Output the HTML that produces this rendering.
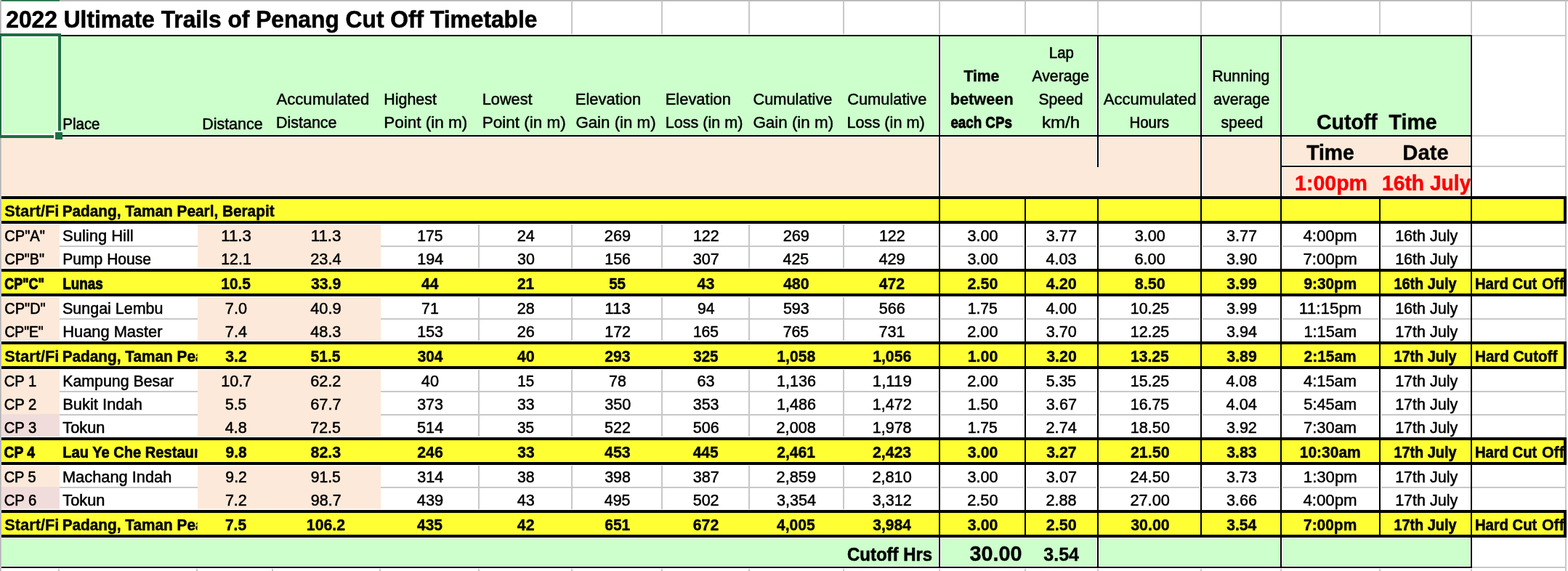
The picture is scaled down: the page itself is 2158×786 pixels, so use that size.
<!DOCTYPE html>
<html lang="en">
<head>
<meta charset="utf-8">
<title>2022 Ultimate Trails of Penang Cut Off Timetable</title>
<style>
html,body{margin:0;padding:0;background:#fff;}
body{width:2158px;height:786px;overflow:hidden;font-family:"Liberation Sans",sans-serif;}
svg{display:block;}
svg rect{shape-rendering:crispEdges;}
svg text{font-family:"Liberation Sans",sans-serif;white-space:pre;}
</style>
</head>
<body>
<svg width="2158" height="786" viewBox="0 0 2158 786">
<defs><clipPath id="c1"><rect x="1900" y="230" width="123.6" height="40"/></clipPath><clipPath id="c2"><rect x="2026" y="372" width="126" height="34"/></clipPath><clipPath id="c3"><rect x="2026" y="372" width="126" height="34"/></clipPath><clipPath id="c4"><rect x="82" y="472" width="189.5" height="34"/></clipPath><clipPath id="c5"><rect x="2026" y="472" width="126" height="34"/></clipPath><clipPath id="c6"><rect x="82" y="604" width="189.5" height="34"/></clipPath><clipPath id="c7"><rect x="2026" y="604" width="126" height="34"/></clipPath><clipPath id="c8"><rect x="2026" y="604" width="126" height="34"/></clipPath><clipPath id="c9"><rect x="82" y="704" width="189.5" height="34"/></clipPath><clipPath id="c10"><rect x="2026" y="704" width="126" height="34"/></clipPath><clipPath id="c11"><rect x="2026" y="704" width="126" height="34"/></clipPath></defs>
<rect x="0" y="0" width="2158" height="786" fill="#ffffff"/>
<g id="gridlines">
<rect x="786" y="2" width="2" height="44.6" fill="#c8c8c8"/>
<rect x="910" y="2" width="2" height="44.6" fill="#c8c8c8"/>
<rect x="1030" y="2" width="2" height="44.6" fill="#c8c8c8"/>
<rect x="1160" y="2" width="2" height="44.6" fill="#c8c8c8"/>
<rect x="1292" y="2" width="2" height="44.6" fill="#c8c8c8"/>
<rect x="1410" y="2" width="2" height="44.6" fill="#c8c8c8"/>
<rect x="1510" y="2" width="2" height="44.6" fill="#c8c8c8"/>
<rect x="1652" y="2" width="2" height="44.6" fill="#c8c8c8"/>
<rect x="1762" y="2" width="2" height="44.6" fill="#c8c8c8"/>
<rect x="1898" y="2" width="2" height="44.6" fill="#c8c8c8"/>
<rect x="2024" y="2" width="2" height="44.6" fill="#c8c8c8"/>
<rect x="2154" y="2" width="2" height="44.6" fill="#c8c8c8"/>
<rect x="2154" y="2" width="2" height="784" fill="#c8c8c8"/>
<rect x="2026" y="48" width="130" height="2" fill="#c8c8c8"/>
<rect x="2026" y="186" width="130" height="2" fill="#c8c8c8"/>
<rect x="2026" y="228" width="130" height="2" fill="#c8c8c8"/>
<rect x="2026" y="338" width="130" height="2" fill="#c8c8c8"/>
<rect x="2026" y="438" width="130" height="2" fill="#c8c8c8"/>
<rect x="2026" y="538" width="130" height="2" fill="#c8c8c8"/>
<rect x="2026" y="570" width="130" height="2" fill="#c8c8c8"/>
<rect x="2026" y="670" width="130" height="2" fill="#c8c8c8"/>
<rect x="2026" y="780" width="130" height="2" fill="#c8c8c8"/>
<rect x="82" y="338" width="190" height="2" fill="#c8c8c8"/>
<rect x="524" y="338" width="1502" height="2" fill="#c8c8c8"/>
<rect x="82" y="438" width="190" height="2" fill="#c8c8c8"/>
<rect x="524" y="438" width="1502" height="2" fill="#c8c8c8"/>
<rect x="82" y="538" width="190" height="2" fill="#c8c8c8"/>
<rect x="524" y="538" width="1502" height="2" fill="#c8c8c8"/>
<rect x="82" y="570" width="190" height="2" fill="#c8c8c8"/>
<rect x="524" y="570" width="1502" height="2" fill="#c8c8c8"/>
<rect x="82" y="670" width="190" height="2" fill="#c8c8c8"/>
<rect x="524" y="670" width="1502" height="2" fill="#c8c8c8"/>
<rect x="658" y="309.2" width="2" height="59.8" fill="#c8c8c8"/>
<rect x="658" y="409.2" width="2" height="59.8" fill="#c8c8c8"/>
<rect x="658" y="509.2" width="2" height="91.8" fill="#c8c8c8"/>
<rect x="658" y="641.2" width="2" height="59.8" fill="#c8c8c8"/>
<rect x="786" y="309.2" width="2" height="59.8" fill="#c8c8c8"/>
<rect x="786" y="409.2" width="2" height="59.8" fill="#c8c8c8"/>
<rect x="786" y="509.2" width="2" height="91.8" fill="#c8c8c8"/>
<rect x="786" y="641.2" width="2" height="59.8" fill="#c8c8c8"/>
<rect x="910" y="309.2" width="2" height="59.8" fill="#c8c8c8"/>
<rect x="910" y="409.2" width="2" height="59.8" fill="#c8c8c8"/>
<rect x="910" y="509.2" width="2" height="91.8" fill="#c8c8c8"/>
<rect x="910" y="641.2" width="2" height="59.8" fill="#c8c8c8"/>
<rect x="1030" y="309.2" width="2" height="59.8" fill="#c8c8c8"/>
<rect x="1030" y="409.2" width="2" height="59.8" fill="#c8c8c8"/>
<rect x="1030" y="509.2" width="2" height="91.8" fill="#c8c8c8"/>
<rect x="1030" y="641.2" width="2" height="59.8" fill="#c8c8c8"/>
<rect x="1160" y="309.2" width="2" height="59.8" fill="#c8c8c8"/>
<rect x="1160" y="409.2" width="2" height="59.8" fill="#c8c8c8"/>
<rect x="1160" y="509.2" width="2" height="91.8" fill="#c8c8c8"/>
<rect x="1160" y="641.2" width="2" height="59.8" fill="#c8c8c8"/>
<rect x="80" y="783" width="2" height="3" fill="#c8c8c8"/>
<rect x="270" y="783" width="2" height="3" fill="#c8c8c8"/>
<rect x="374" y="783" width="2" height="3" fill="#c8c8c8"/>
<rect x="522" y="783" width="2" height="3" fill="#c8c8c8"/>
<rect x="658" y="783" width="2" height="3" fill="#c8c8c8"/>
<rect x="786" y="783" width="2" height="3" fill="#c8c8c8"/>
<rect x="910" y="783" width="2" height="3" fill="#c8c8c8"/>
<rect x="1030" y="783" width="2" height="3" fill="#c8c8c8"/>
<rect x="1160" y="783" width="2" height="3" fill="#c8c8c8"/>
<rect x="1292" y="783" width="2" height="3" fill="#c8c8c8"/>
<rect x="1410" y="783" width="2" height="3" fill="#c8c8c8"/>
<rect x="1510" y="783" width="2" height="3" fill="#c8c8c8"/>
<rect x="1652" y="783" width="2" height="3" fill="#c8c8c8"/>
<rect x="1762" y="783" width="2" height="3" fill="#c8c8c8"/>
<rect x="1898" y="783" width="2" height="3" fill="#c8c8c8"/>
<rect x="2024" y="783" width="2" height="3" fill="#c8c8c8"/>
<rect x="2154" y="783" width="2" height="3" fill="#c8c8c8"/>
</g>
<g id="fills">
<rect x="2" y="50" width="2022" height="136" fill="#ccffcc"/>
<rect x="2" y="189" width="2022" height="80" fill="#fde9d9"/>
<rect x="2" y="274" width="2150" height="30" fill="#ffff33"/>
<rect x="2" y="374" width="2150" height="30" fill="#ffff33"/>
<rect x="2" y="474" width="2150" height="30" fill="#ffff33"/>
<rect x="2" y="606" width="2150" height="30" fill="#ffff33"/>
<rect x="2" y="706" width="2150" height="30" fill="#ffff33"/>
<rect x="2" y="741" width="2022" height="38" fill="#ccffcc"/>
<rect x="272" y="309.2" width="252" height="59.4" fill="#fde9d9" style="shape-rendering:geometricPrecision"/>
<rect x="272" y="409.2" width="252" height="59.4" fill="#fde9d9" style="shape-rendering:geometricPrecision"/>
<rect x="272" y="509.2" width="252" height="91.4" fill="#fde9d9" style="shape-rendering:geometricPrecision"/>
<rect x="272" y="641.2" width="252" height="59.4" fill="#fde9d9" style="shape-rendering:geometricPrecision"/>
<rect x="2" y="309.2" width="80" height="59.4" fill="#fde9d9" style="shape-rendering:geometricPrecision"/>
<rect x="2" y="409.2" width="80" height="59.4" fill="#fde9d9" style="shape-rendering:geometricPrecision"/>
<rect x="2" y="509.2" width="80" height="60.8" fill="#fde9d9" style="shape-rendering:geometricPrecision"/>
<rect x="2" y="570" width="80" height="30.6" fill="#f1dcdc" style="shape-rendering:geometricPrecision"/>
<rect x="2" y="641.2" width="80" height="28.8" fill="#fde9d9" style="shape-rendering:geometricPrecision"/>
<rect x="2" y="670" width="80" height="30.6" fill="#f1dcdc" style="shape-rendering:geometricPrecision"/>
</g>
<g id="borders">
<rect x="2" y="188" width="2022" height="1" fill="#ffffff"/>
<rect x="1764" y="227" width="260" height="4" fill="#ffffff"/>
<rect x="2" y="269" width="2022" height="1" fill="#ffffff"/>
<rect x="2" y="779" width="2022" height="1" fill="#ffffff"/>
<rect x="2" y="740" width="2022" height="1" fill="#ffffff"/>
<rect x="1291" y="50" width="4" height="220" fill="#ffffff"/>
<rect x="1292" y="50" width="2" height="220" fill="#000000"/>
<rect x="1509" y="50" width="4" height="180" fill="#ffffff"/>
<rect x="1510" y="50" width="2" height="180" fill="#000000"/>
<rect x="1651" y="50" width="4" height="220" fill="#ffffff"/>
<rect x="1652" y="50" width="2" height="220" fill="#000000"/>
<rect x="1761" y="50" width="4" height="220" fill="#ffffff"/>
<rect x="1762" y="50" width="2" height="220" fill="#000000"/>
<rect x="2023" y="50" width="1" height="220" fill="#ffffff"/>
<rect x="2023" y="741" width="1" height="38" fill="#ffffff"/>
<rect x="2024" y="48" width="2" height="734" fill="#000000"/>
<rect x="1291" y="308" width="4" height="62" fill="#ffffff"/>
<rect x="1291" y="408" width="4" height="62" fill="#ffffff"/>
<rect x="1291" y="508" width="4" height="94" fill="#ffffff"/>
<rect x="1291" y="640" width="4" height="62" fill="#ffffff"/>
<rect x="1292" y="272" width="2" height="468" fill="#000000"/>
<rect x="1409" y="308" width="4" height="62" fill="#ffffff"/>
<rect x="1409" y="408" width="4" height="62" fill="#ffffff"/>
<rect x="1409" y="508" width="4" height="94" fill="#ffffff"/>
<rect x="1409" y="640" width="4" height="62" fill="#ffffff"/>
<rect x="1410" y="272" width="2" height="468" fill="#000000"/>
<rect x="1509" y="308" width="4" height="62" fill="#ffffff"/>
<rect x="1509" y="408" width="4" height="62" fill="#ffffff"/>
<rect x="1509" y="508" width="4" height="94" fill="#ffffff"/>
<rect x="1509" y="640" width="4" height="62" fill="#ffffff"/>
<rect x="1510" y="272" width="2" height="468" fill="#000000"/>
<rect x="1651" y="308" width="4" height="62" fill="#ffffff"/>
<rect x="1651" y="408" width="4" height="62" fill="#ffffff"/>
<rect x="1651" y="508" width="4" height="94" fill="#ffffff"/>
<rect x="1651" y="640" width="4" height="62" fill="#ffffff"/>
<rect x="1652" y="272" width="2" height="468" fill="#000000"/>
<rect x="1761" y="308" width="4" height="62" fill="#ffffff"/>
<rect x="1761" y="408" width="4" height="62" fill="#ffffff"/>
<rect x="1761" y="508" width="4" height="94" fill="#ffffff"/>
<rect x="1761" y="640" width="4" height="62" fill="#ffffff"/>
<rect x="1762" y="272" width="2" height="468" fill="#000000"/>
<rect x="1897" y="308" width="4" height="62" fill="#ffffff"/>
<rect x="1897" y="408" width="4" height="62" fill="#ffffff"/>
<rect x="1897" y="508" width="4" height="94" fill="#ffffff"/>
<rect x="1897" y="640" width="4" height="62" fill="#ffffff"/>
<rect x="1898" y="272" width="2" height="468" fill="#000000"/>
<rect x="1291" y="740" width="4" height="40" fill="#ffffff"/>
<rect x="1292" y="740" width="2" height="40" fill="#000000"/>
<rect x="1509" y="740" width="4" height="40" fill="#ffffff"/>
<rect x="1510" y="740" width="2" height="40" fill="#000000"/>
<rect x="1761" y="740" width="4" height="40" fill="#ffffff"/>
<rect x="1762" y="740" width="2" height="40" fill="#000000"/>
<rect x="84" y="48" width="1942" height="2" fill="#000000"/>
<rect x="2" y="186" width="2024" height="2" fill="#000000"/>
<rect x="1764" y="228" width="260" height="2" fill="#000000"/>
<rect x="2" y="270" width="2154" height="4" fill="#000000"/>
<rect x="2" y="304" width="2154" height="4" fill="#000000"/>
<rect x="2152" y="270" width="4" height="38" fill="#000000"/>
<rect x="2" y="370" width="2154" height="4" fill="#000000"/>
<rect x="2" y="404" width="2154" height="4" fill="#000000"/>
<rect x="2152" y="370" width="4" height="38" fill="#000000"/>
<rect x="2" y="470" width="2154" height="4" fill="#000000"/>
<rect x="2" y="504" width="2154" height="4" fill="#000000"/>
<rect x="2152" y="470" width="4" height="38" fill="#000000"/>
<rect x="2" y="602" width="2154" height="4" fill="#000000"/>
<rect x="2" y="636" width="2154" height="4" fill="#000000"/>
<rect x="2152" y="602" width="4" height="38" fill="#000000"/>
<rect x="2" y="702" width="2154" height="4" fill="#000000"/>
<rect x="2" y="736" width="2154" height="4" fill="#000000"/>
<rect x="2152" y="702" width="4" height="38" fill="#000000"/>
<rect x="2" y="780" width="2024" height="2" fill="#000000"/>
</g>
<rect x="0" y="0" width="2158" height="1" fill="#b3b3b3"/>
<rect x="0" y="1" width="2158" height="1" fill="#c6c6c6"/>
<rect x="0" y="0" width="1" height="786" fill="#b3b3b3"/>
<rect x="1" y="2" width="1" height="784" fill="#c6c6c6"/>
<rect x="2" y="0" width="80" height="1" fill="#1e6e42"/>
<rect x="2" y="1" width="80" height="1" fill="#5e9478"/>
<rect x="1" y="274" width="1" height="30" fill="#b4aee6"/>
<rect x="1" y="374" width="1" height="30" fill="#b4aee6"/>
<rect x="1" y="474" width="1" height="30" fill="#b4aee6"/>
<rect x="1" y="606" width="1" height="30" fill="#b4aee6"/>
<rect x="1" y="706" width="1" height="30" fill="#b4aee6"/>
<g id="text" font-family="'Liberation Sans', sans-serif" fill="#000" stroke="#000" stroke-linejoin="round">
<text x="8.28" y="37.75" font-size="33.77" textLength="731.18" lengthAdjust="spacingAndGlyphs" stroke-width="0.58" font-weight="bold">2022 Ultimate Trails of Penang Cut Off Timetable</text>
<text x="86.35" y="177.60" font-size="22.44" textLength="51.14" lengthAdjust="spacingAndGlyphs" stroke-width="0.63">Place</text>
<text x="278.16" y="177.60" font-size="22.44" textLength="83.51" lengthAdjust="spacingAndGlyphs" stroke-width="0.54">Distance</text>
<text x="380.48" y="143.70" font-size="22.44" textLength="127.92" lengthAdjust="spacingAndGlyphs" stroke-width="0.48">Accumulated</text>
<text x="380.01" y="175.70" font-size="22.44" textLength="83.51" lengthAdjust="spacingAndGlyphs" stroke-width="0.54">Distance</text>
<text x="528.27" y="143.70" font-size="22.44" textLength="72.61" lengthAdjust="spacingAndGlyphs" stroke-width="0.54">Highest</text>
<text x="528.18" y="175.70" font-size="22.44" textLength="115.20" lengthAdjust="spacingAndGlyphs" stroke-width="0.45">Point (in m)</text>
<text x="663.74" y="143.70" font-size="22.44" textLength="68.89" lengthAdjust="spacingAndGlyphs" stroke-width="0.51">Lowest</text>
<text x="663.68" y="175.70" font-size="22.44" textLength="115.20" lengthAdjust="spacingAndGlyphs" stroke-width="0.45">Point (in m)</text>
<text x="791.72" y="143.70" font-size="22.44" textLength="90.43" lengthAdjust="spacingAndGlyphs" stroke-width="0.49">Elevation</text>
<text x="792.40" y="175.70" font-size="22.44" textLength="110.20" lengthAdjust="spacingAndGlyphs" stroke-width="0.46">Gain (in m)</text>
<text x="915.73" y="143.70" font-size="22.44" textLength="90.17" lengthAdjust="spacingAndGlyphs" stroke-width="0.50">Elevation</text>
<text x="915.75" y="175.70" font-size="22.44" textLength="106.81" lengthAdjust="spacingAndGlyphs" stroke-width="0.53">Loss (in m)</text>
<text x="1036.42" y="143.70" font-size="22.44" textLength="109.03" lengthAdjust="spacingAndGlyphs" stroke-width="0.51">Cumulative</text>
<text x="1036.40" y="175.70" font-size="22.44" textLength="110.71" lengthAdjust="spacingAndGlyphs" stroke-width="0.45">Gain (in m)</text>
<text x="1166.17" y="143.70" font-size="22.44" textLength="109.28" lengthAdjust="spacingAndGlyphs" stroke-width="0.50">Cumulative</text>
<text x="1165.49" y="175.70" font-size="22.44" textLength="107.33" lengthAdjust="spacingAndGlyphs" stroke-width="0.52">Loss (in m)</text>
<text x="1326.39" y="111.70" font-size="22.51" textLength="48.95" lengthAdjust="spacingAndGlyphs" stroke-width="0.46" font-weight="bold">Time</text>
<text x="1307.69" y="143.70" font-size="22.51" textLength="87.03" lengthAdjust="spacingAndGlyphs" stroke-width="0.30" font-weight="bold">between</text>
<text x="1308.39" y="175.70" font-size="22.51" textLength="84.50" lengthAdjust="spacingAndGlyphs" stroke-width="0.90" font-weight="bold">each CPs</text>
<text x="1443.85" y="79.70" font-size="22.44" textLength="33.98" lengthAdjust="spacingAndGlyphs" stroke-width="0.64">Lap</text>
<text x="1420.48" y="111.70" font-size="22.44" textLength="78.68" lengthAdjust="spacingAndGlyphs" stroke-width="0.57">Average</text>
<text x="1429.57" y="143.70" font-size="22.44" textLength="60.76" lengthAdjust="spacingAndGlyphs" stroke-width="0.58">Speed</text>
<text x="1433.90" y="175.70" font-size="22.44" textLength="52.13" lengthAdjust="spacingAndGlyphs" stroke-width="0.45">km/h</text>
<text x="1518.68" y="143.70" font-size="22.44" textLength="127.82" lengthAdjust="spacingAndGlyphs" stroke-width="0.48">Accumulated</text>
<text x="1554.45" y="175.70" font-size="22.44" textLength="54.57" lengthAdjust="spacingAndGlyphs" stroke-width="0.63">Hours</text>
<text x="1668.18" y="111.70" font-size="22.44" textLength="79.27" lengthAdjust="spacingAndGlyphs" stroke-width="0.55">Running</text>
<text x="1670.12" y="143.70" font-size="22.44" textLength="77.31" lengthAdjust="spacingAndGlyphs" stroke-width="0.54">average</text>
<text x="1680.53" y="175.70" font-size="22.44" textLength="57.81" lengthAdjust="spacingAndGlyphs" stroke-width="0.56">speed</text>
<text x="1811.91" y="178.20" font-size="30.02" textLength="165.69" lengthAdjust="spacingAndGlyphs" stroke-width="0.47" font-weight="bold" xml:space="preserve">Cutoff  Time</text>
<text x="1798.16" y="219.90" font-size="30.02" textLength="65.52" lengthAdjust="spacingAndGlyphs" stroke-width="0.54" font-weight="bold">Time</text>
<text x="1930.32" y="219.90" font-size="30.02" textLength="63.41" lengthAdjust="spacingAndGlyphs" stroke-width="0.30" font-weight="bold">Date</text>
<text x="1782.08" y="262.00" font-size="30.02" textLength="99.92" lengthAdjust="spacingAndGlyphs" stroke-width="0.45" font-weight="bold" fill="#fb0007" stroke="#fb0007">1:00pm</text>
<g clip-path="url(#c1)"><text x="1902.10" y="262.00" font-size="30.02" textLength="122.28" lengthAdjust="spacingAndGlyphs" stroke-width="0.51" font-weight="bold" fill="#fb0007" stroke="#fb0007">16th July</text></g>
<text x="6.25" y="297.60" font-size="22.51" textLength="75.12" lengthAdjust="spacingAndGlyphs" stroke-width="0.29" font-weight="bold">Start/Fi</text>
<text x="85.69" y="297.60" font-size="22.51" textLength="291.89" lengthAdjust="spacingAndGlyphs" stroke-width="0.52" font-weight="bold">Padang, Taman Pearl, Berapit</text>
<text x="6.36" y="331.60" font-size="22.44" textLength="55.50" lengthAdjust="spacingAndGlyphs" stroke-width="0.66">CP"A"</text>
<text x="86.03" y="331.60" font-size="22.44" textLength="97.72" lengthAdjust="spacingAndGlyphs" stroke-width="0.49">Suling Hill</text>
<text x="304.19" y="331.60" font-size="22.44" textLength="41.69" lengthAdjust="spacingAndGlyphs" stroke-width="0.54">11.3</text>
<text x="427.69" y="331.60" font-size="22.44" textLength="41.69" lengthAdjust="spacingAndGlyphs" stroke-width="0.54">11.3</text>
<text x="574.35" y="331.60" font-size="22.44" textLength="35.03" lengthAdjust="spacingAndGlyphs" stroke-width="0.58">175</text>
<text x="711.75" y="331.60" font-size="22.44" textLength="24.13" lengthAdjust="spacingAndGlyphs" stroke-width="0.52">24</text>
<text x="831.86" y="331.60" font-size="22.44" textLength="36.27" lengthAdjust="spacingAndGlyphs" stroke-width="0.51">269</text>
<text x="953.93" y="331.60" font-size="22.44" textLength="35.65" lengthAdjust="spacingAndGlyphs" stroke-width="0.55">122</text>
<text x="1077.66" y="331.60" font-size="22.44" textLength="36.27" lengthAdjust="spacingAndGlyphs" stroke-width="0.51">269</text>
<text x="1209.93" y="331.60" font-size="22.44" textLength="35.65" lengthAdjust="spacingAndGlyphs" stroke-width="0.55">122</text>
<text x="1331.49" y="331.60" font-size="22.44" textLength="42.03" lengthAdjust="spacingAndGlyphs" stroke-width="0.53">3.00</text>
<text x="1439.84" y="331.60" font-size="22.44" textLength="42.13" lengthAdjust="spacingAndGlyphs" stroke-width="0.52">3.77</text>
<text x="1561.79" y="331.60" font-size="22.44" textLength="42.03" lengthAdjust="spacingAndGlyphs" stroke-width="0.53">3.00</text>
<text x="1687.94" y="331.60" font-size="22.44" textLength="42.13" lengthAdjust="spacingAndGlyphs" stroke-width="0.52">3.77</text>
<text x="1793.38" y="331.60" font-size="22.44" textLength="74.28" lengthAdjust="spacingAndGlyphs" stroke-width="0.47">4:00pm</text>
<text x="1920.14" y="331.60" font-size="22.44" textLength="86.03" lengthAdjust="spacingAndGlyphs" stroke-width="0.54">16th July</text>
<text x="6.38" y="363.60" font-size="22.44" textLength="54.67" lengthAdjust="spacingAndGlyphs" stroke-width="0.69">CP"B"</text>
<text x="86.30" y="363.60" font-size="22.44" textLength="121.71" lengthAdjust="spacingAndGlyphs" stroke-width="0.57">Pump House</text>
<text x="304.19" y="363.60" font-size="22.44" textLength="41.62" lengthAdjust="spacingAndGlyphs" stroke-width="0.54">12.1</text>
<text x="427.23" y="363.60" font-size="22.44" textLength="42.36" lengthAdjust="spacingAndGlyphs" stroke-width="0.51">23.4</text>
<text x="574.32" y="363.60" font-size="22.44" textLength="35.83" lengthAdjust="spacingAndGlyphs" stroke-width="0.54">194</text>
<text x="712.06" y="363.60" font-size="22.44" textLength="23.79" lengthAdjust="spacingAndGlyphs" stroke-width="0.54">30</text>
<text x="832.32" y="363.60" font-size="22.44" textLength="35.71" lengthAdjust="spacingAndGlyphs" stroke-width="0.54">156</text>
<text x="953.77" y="363.60" font-size="22.44" textLength="36.07" lengthAdjust="spacingAndGlyphs" stroke-width="0.52">307</text>
<text x="1077.60" y="363.60" font-size="22.44" textLength="35.60" lengthAdjust="spacingAndGlyphs" stroke-width="0.55">425</text>
<text x="1209.39" y="363.60" font-size="22.44" textLength="36.34" lengthAdjust="spacingAndGlyphs" stroke-width="0.51">429</text>
<text x="1331.49" y="363.60" font-size="22.44" textLength="42.03" lengthAdjust="spacingAndGlyphs" stroke-width="0.53">3.00</text>
<text x="1439.46" y="363.60" font-size="22.44" textLength="42.23" lengthAdjust="spacingAndGlyphs" stroke-width="0.52">4.03</text>
<text x="1561.47" y="363.60" font-size="22.44" textLength="42.36" lengthAdjust="spacingAndGlyphs" stroke-width="0.51">6.00</text>
<text x="1687.94" y="363.60" font-size="22.44" textLength="42.03" lengthAdjust="spacingAndGlyphs" stroke-width="0.53">3.90</text>
<text x="1793.49" y="363.60" font-size="22.44" textLength="74.17" lengthAdjust="spacingAndGlyphs" stroke-width="0.47">7:00pm</text>
<text x="1920.14" y="363.60" font-size="22.44" textLength="86.03" lengthAdjust="spacingAndGlyphs" stroke-width="0.54">16th July</text>
<text x="6.20" y="397.60" font-size="22.51" textLength="54.81" lengthAdjust="spacingAndGlyphs" stroke-width="1.07" font-weight="bold">CP"C"</text>
<text x="86.32" y="397.60" font-size="22.51" textLength="55.38" lengthAdjust="spacingAndGlyphs" stroke-width="0.89" font-weight="bold">Lunas</text>
<text x="304.27" y="397.60" font-size="22.51" textLength="40.71" lengthAdjust="spacingAndGlyphs" stroke-width="0.47" font-weight="bold">10.5</text>
<text x="427.90" y="397.60" font-size="22.51" textLength="41.46" lengthAdjust="spacingAndGlyphs" stroke-width="0.39" font-weight="bold">33.9</text>
<text x="580.00" y="397.60" font-size="22.51" textLength="23.40" lengthAdjust="spacingAndGlyphs" stroke-width="0.44" font-weight="bold">44</text>
<text x="712.02" y="397.60" font-size="22.51" textLength="23.13" lengthAdjust="spacingAndGlyphs" stroke-width="0.49" font-weight="bold">21</text>
<text x="838.19" y="397.60" font-size="22.51" textLength="22.84" lengthAdjust="spacingAndGlyphs" stroke-width="0.54" font-weight="bold">55</text>
<text x="959.60" y="397.60" font-size="22.51" textLength="23.77" lengthAdjust="spacingAndGlyphs" stroke-width="0.38" font-weight="bold">43</text>
<text x="1077.89" y="397.60" font-size="22.51" textLength="35.88" lengthAdjust="spacingAndGlyphs" stroke-width="0.35" font-weight="bold">480</text>
<text x="1209.69" y="397.60" font-size="22.51" textLength="35.52" lengthAdjust="spacingAndGlyphs" stroke-width="0.40" font-weight="bold">472</text>
<text x="1331.51" y="397.60" font-size="22.51" textLength="41.92" lengthAdjust="spacingAndGlyphs" stroke-width="0.35" font-weight="bold">2.50</text>
<text x="1439.67" y="397.60" font-size="22.51" textLength="42.12" lengthAdjust="spacingAndGlyphs" stroke-width="0.32" font-weight="bold">4.20</text>
<text x="1561.79" y="397.60" font-size="22.51" textLength="41.95" lengthAdjust="spacingAndGlyphs" stroke-width="0.34" font-weight="bold">8.50</text>
<text x="1688.30" y="397.60" font-size="22.51" textLength="41.46" lengthAdjust="spacingAndGlyphs" stroke-width="0.39" font-weight="bold">3.99</text>
<text x="1794.52" y="397.60" font-size="22.51" textLength="72.73" lengthAdjust="spacingAndGlyphs" stroke-width="0.50" font-weight="bold">9:30pm</text>
<text x="1918.41" y="397.60" font-size="22.51" textLength="86.08" lengthAdjust="spacingAndGlyphs" stroke-width="0.68" font-weight="bold">16th July</text>
<g clip-path="url(#c2)"><text x="2030.03" y="397.60" font-size="22.51" textLength="85.15" lengthAdjust="spacingAndGlyphs" stroke-width="0.62" font-weight="bold">Hard Cut</text></g>
<g clip-path="url(#c3)"><text x="2121.89" y="397.60" font-size="22.51" textLength="31.09" lengthAdjust="spacingAndGlyphs" stroke-width="0.35" font-weight="bold">Off</text></g>
<text x="6.37" y="431.60" font-size="22.44" textLength="56.34" lengthAdjust="spacingAndGlyphs" stroke-width="0.67">CP"D"</text>
<text x="86.05" y="431.60" font-size="22.44" textLength="138.35" lengthAdjust="spacingAndGlyphs" stroke-width="0.54">Sungai Lembu</text>
<text x="309.87" y="431.60" font-size="22.44" textLength="30.12" lengthAdjust="spacingAndGlyphs" stroke-width="0.52">7.0</text>
<text x="427.16" y="431.60" font-size="22.44" textLength="42.40" lengthAdjust="spacingAndGlyphs" stroke-width="0.51">40.9</text>
<text x="580.01" y="431.60" font-size="22.44" textLength="23.79" lengthAdjust="spacingAndGlyphs" stroke-width="0.54">71</text>
<text x="711.76" y="431.60" font-size="22.44" textLength="23.85" lengthAdjust="spacingAndGlyphs" stroke-width="0.54">28</text>
<text x="832.33" y="431.60" font-size="22.44" textLength="35.62" lengthAdjust="spacingAndGlyphs" stroke-width="0.55">113</text>
<text x="960.10" y="431.60" font-size="22.44" textLength="23.56" lengthAdjust="spacingAndGlyphs" stroke-width="0.56">94</text>
<text x="1077.91" y="431.60" font-size="22.44" textLength="35.84" lengthAdjust="spacingAndGlyphs" stroke-width="0.54">593</text>
<text x="1209.71" y="431.60" font-size="22.44" textLength="35.93" lengthAdjust="spacingAndGlyphs" stroke-width="0.53">566</text>
<text x="1331.67" y="431.60" font-size="22.44" textLength="41.10" lengthAdjust="spacingAndGlyphs" stroke-width="0.57">1.75</text>
<text x="1439.46" y="431.60" font-size="22.44" textLength="42.42" lengthAdjust="spacingAndGlyphs" stroke-width="0.51">4.00</text>
<text x="1555.87" y="431.60" font-size="22.44" textLength="53.29" lengthAdjust="spacingAndGlyphs" stroke-width="0.55">10.25</text>
<text x="1687.94" y="431.60" font-size="22.44" textLength="42.01" lengthAdjust="spacingAndGlyphs" stroke-width="0.53">3.99</text>
<text x="1787.79" y="431.60" font-size="22.44" textLength="85.94" lengthAdjust="spacingAndGlyphs" stroke-width="0.48">11:15pm</text>
<text x="1920.14" y="431.60" font-size="22.44" textLength="86.03" lengthAdjust="spacingAndGlyphs" stroke-width="0.54">16th July</text>
<text x="6.40" y="463.60" font-size="22.44" textLength="53.33" lengthAdjust="spacingAndGlyphs" stroke-width="0.73">CP"E"</text>
<text x="86.23" y="463.60" font-size="22.44" textLength="137.20" lengthAdjust="spacingAndGlyphs" stroke-width="0.50">Huang Master</text>
<text x="309.87" y="463.60" font-size="22.44" textLength="30.14" lengthAdjust="spacingAndGlyphs" stroke-width="0.52">7.4</text>
<text x="427.16" y="463.60" font-size="22.44" textLength="42.23" lengthAdjust="spacingAndGlyphs" stroke-width="0.52">48.3</text>
<text x="574.33" y="463.60" font-size="22.44" textLength="35.62" lengthAdjust="spacingAndGlyphs" stroke-width="0.55">153</text>
<text x="711.75" y="463.60" font-size="22.44" textLength="24.00" lengthAdjust="spacingAndGlyphs" stroke-width="0.53">26</text>
<text x="832.33" y="463.60" font-size="22.44" textLength="35.65" lengthAdjust="spacingAndGlyphs" stroke-width="0.55">172</text>
<text x="953.95" y="463.60" font-size="22.44" textLength="35.03" lengthAdjust="spacingAndGlyphs" stroke-width="0.58">165</text>
<text x="1077.74" y="463.60" font-size="22.44" textLength="35.46" lengthAdjust="spacingAndGlyphs" stroke-width="0.56">765</text>
<text x="1209.52" y="463.60" font-size="22.44" textLength="35.97" lengthAdjust="spacingAndGlyphs" stroke-width="0.53">731</text>
<text x="1331.18" y="463.60" font-size="22.44" textLength="42.35" lengthAdjust="spacingAndGlyphs" stroke-width="0.51">2.00</text>
<text x="1439.84" y="463.60" font-size="22.44" textLength="42.03" lengthAdjust="spacingAndGlyphs" stroke-width="0.53">3.70</text>
<text x="1555.87" y="463.60" font-size="22.44" textLength="53.29" lengthAdjust="spacingAndGlyphs" stroke-width="0.55">12.25</text>
<text x="1687.94" y="463.60" font-size="22.44" textLength="42.04" lengthAdjust="spacingAndGlyphs" stroke-width="0.53">3.94</text>
<text x="1794.45" y="463.60" font-size="22.44" textLength="72.62" lengthAdjust="spacingAndGlyphs" stroke-width="0.51">1:15am</text>
<text x="1920.14" y="463.60" font-size="22.44" textLength="86.03" lengthAdjust="spacingAndGlyphs" stroke-width="0.54">17th July</text>
<text x="6.25" y="497.60" font-size="22.51" textLength="75.12" lengthAdjust="spacingAndGlyphs" stroke-width="0.29" font-weight="bold">Start/Fi</text>
<g clip-path="url(#c4)"><text x="85.69" y="497.60" font-size="22.51" textLength="291.89" lengthAdjust="spacingAndGlyphs" stroke-width="0.52" font-weight="bold">Padang, Taman Pearl, Berapit</text></g>
<text x="310.32" y="497.60" font-size="22.51" textLength="29.38" lengthAdjust="spacingAndGlyphs" stroke-width="0.42" font-weight="bold">3.2</text>
<text x="427.55" y="497.60" font-size="22.51" textLength="40.93" lengthAdjust="spacingAndGlyphs" stroke-width="0.45" font-weight="bold">51.5</text>
<text x="574.63" y="497.60" font-size="22.51" textLength="34.69" lengthAdjust="spacingAndGlyphs" stroke-width="0.49" font-weight="bold">304</text>
<text x="711.79" y="497.60" font-size="22.51" textLength="24.06" lengthAdjust="spacingAndGlyphs" stroke-width="0.33" font-weight="bold">40</text>
<text x="832.29" y="497.60" font-size="22.51" textLength="35.39" lengthAdjust="spacingAndGlyphs" stroke-width="0.41" font-weight="bold">293</text>
<text x="954.23" y="497.60" font-size="22.51" textLength="34.31" lengthAdjust="spacingAndGlyphs" stroke-width="0.54" font-weight="bold">325</text>
<text x="1069.35" y="497.60" font-size="22.51" textLength="52.88" lengthAdjust="spacingAndGlyphs" stroke-width="0.43" font-weight="bold">1,058</text>
<text x="1201.14" y="497.60" font-size="22.51" textLength="53.19" lengthAdjust="spacingAndGlyphs" stroke-width="0.40" font-weight="bold">1,056</text>
<text x="1331.68" y="497.60" font-size="22.51" textLength="41.74" lengthAdjust="spacingAndGlyphs" stroke-width="0.36" font-weight="bold">1.00</text>
<text x="1440.20" y="497.60" font-size="22.51" textLength="41.57" lengthAdjust="spacingAndGlyphs" stroke-width="0.38" font-weight="bold">3.20</text>
<text x="1556.10" y="497.60" font-size="22.51" textLength="52.54" lengthAdjust="spacingAndGlyphs" stroke-width="0.45" font-weight="bold">13.25</text>
<text x="1688.30" y="497.60" font-size="22.51" textLength="41.46" lengthAdjust="spacingAndGlyphs" stroke-width="0.39" font-weight="bold">3.89</text>
<text x="1794.54" y="497.60" font-size="22.51" textLength="72.22" lengthAdjust="spacingAndGlyphs" stroke-width="0.46" font-weight="bold">2:15am</text>
<text x="1918.41" y="497.60" font-size="22.51" textLength="86.08" lengthAdjust="spacingAndGlyphs" stroke-width="0.68" font-weight="bold">17th July</text>
<g clip-path="url(#c5)"><text x="2030.00" y="497.60" font-size="22.51" textLength="113.34" lengthAdjust="spacingAndGlyphs" stroke-width="0.53" font-weight="bold">Hard Cutoff</text></g>
<text x="5.69" y="531.60" font-size="22.44" textLength="44.46" lengthAdjust="spacingAndGlyphs" stroke-width="0.67">CP 1</text>
<text x="86.28" y="531.60" font-size="22.44" textLength="152.95" lengthAdjust="spacingAndGlyphs" stroke-width="0.55">Kampung Besar</text>
<text x="304.18" y="531.60" font-size="22.44" textLength="41.98" lengthAdjust="spacingAndGlyphs" stroke-width="0.53">10.7</text>
<text x="427.23" y="531.60" font-size="22.44" textLength="42.19" lengthAdjust="spacingAndGlyphs" stroke-width="0.52">62.2</text>
<text x="579.87" y="531.60" font-size="22.44" textLength="24.20" lengthAdjust="spacingAndGlyphs" stroke-width="0.51">40</text>
<text x="712.27" y="531.60" font-size="22.44" textLength="22.81" lengthAdjust="spacingAndGlyphs" stroke-width="0.62">15</text>
<text x="838.01" y="531.60" font-size="22.44" textLength="23.80" lengthAdjust="spacingAndGlyphs" stroke-width="0.54">78</text>
<text x="959.55" y="531.60" font-size="22.44" textLength="23.92" lengthAdjust="spacingAndGlyphs" stroke-width="0.53">63</text>
<text x="1069.04" y="531.60" font-size="22.44" textLength="53.87" lengthAdjust="spacingAndGlyphs" stroke-width="0.53">1,136</text>
<text x="1200.83" y="531.60" font-size="22.44" textLength="53.96" lengthAdjust="spacingAndGlyphs" stroke-width="0.53">1,119</text>
<text x="1331.18" y="531.60" font-size="22.44" textLength="42.35" lengthAdjust="spacingAndGlyphs" stroke-width="0.51">2.00</text>
<text x="1439.79" y="531.60" font-size="22.44" textLength="41.34" lengthAdjust="spacingAndGlyphs" stroke-width="0.56">5.35</text>
<text x="1555.87" y="531.60" font-size="22.44" textLength="53.29" lengthAdjust="spacingAndGlyphs" stroke-width="0.55">15.25</text>
<text x="1687.56" y="531.60" font-size="22.44" textLength="42.17" lengthAdjust="spacingAndGlyphs" stroke-width="0.52">4.08</text>
<text x="1793.94" y="531.60" font-size="22.44" textLength="73.14" lengthAdjust="spacingAndGlyphs" stroke-width="0.50">4:15am</text>
<text x="1920.14" y="531.60" font-size="22.44" textLength="86.03" lengthAdjust="spacingAndGlyphs" stroke-width="0.54">17th July</text>
<text x="5.69" y="563.60" font-size="22.44" textLength="44.56" lengthAdjust="spacingAndGlyphs" stroke-width="0.67">CP 2</text>
<text x="86.23" y="563.60" font-size="22.44" textLength="109.67" lengthAdjust="spacingAndGlyphs" stroke-width="0.50">Bukit Indah</text>
<text x="310.08" y="563.60" font-size="22.44" textLength="29.15" lengthAdjust="spacingAndGlyphs" stroke-width="0.58">5.5</text>
<text x="427.22" y="563.60" font-size="22.44" textLength="42.45" lengthAdjust="spacingAndGlyphs" stroke-width="0.51">67.7</text>
<text x="574.18" y="563.60" font-size="22.44" textLength="35.77" lengthAdjust="spacingAndGlyphs" stroke-width="0.54">373</text>
<text x="712.07" y="563.60" font-size="22.44" textLength="23.59" lengthAdjust="spacingAndGlyphs" stroke-width="0.56">33</text>
<text x="832.17" y="563.60" font-size="22.44" textLength="35.97" lengthAdjust="spacingAndGlyphs" stroke-width="0.53">350</text>
<text x="953.78" y="563.60" font-size="22.44" textLength="35.77" lengthAdjust="spacingAndGlyphs" stroke-width="0.54">353</text>
<text x="1069.04" y="563.60" font-size="22.44" textLength="53.87" lengthAdjust="spacingAndGlyphs" stroke-width="0.53">1,486</text>
<text x="1200.84" y="563.60" font-size="22.44" textLength="53.82" lengthAdjust="spacingAndGlyphs" stroke-width="0.53">1,472</text>
<text x="1331.63" y="563.60" font-size="22.44" textLength="41.89" lengthAdjust="spacingAndGlyphs" stroke-width="0.53">1.50</text>
<text x="1439.84" y="563.60" font-size="22.44" textLength="42.13" lengthAdjust="spacingAndGlyphs" stroke-width="0.52">3.67</text>
<text x="1555.87" y="563.60" font-size="22.44" textLength="53.29" lengthAdjust="spacingAndGlyphs" stroke-width="0.55">16.75</text>
<text x="1687.56" y="563.60" font-size="22.44" textLength="42.43" lengthAdjust="spacingAndGlyphs" stroke-width="0.51">4.04</text>
<text x="1794.25" y="563.60" font-size="22.44" textLength="72.82" lengthAdjust="spacingAndGlyphs" stroke-width="0.50">5:45am</text>
<text x="1920.14" y="563.60" font-size="22.44" textLength="86.03" lengthAdjust="spacingAndGlyphs" stroke-width="0.54">17th July</text>
<text x="5.69" y="595.60" font-size="22.44" textLength="44.53" lengthAdjust="spacingAndGlyphs" stroke-width="0.67">CP 3</text>
<text x="86.36" y="595.60" font-size="22.44" textLength="58.08" lengthAdjust="spacingAndGlyphs" stroke-width="0.59">Tokun</text>
<text x="309.75" y="595.60" font-size="22.44" textLength="30.00" lengthAdjust="spacingAndGlyphs" stroke-width="0.53">4.8</text>
<text x="427.30" y="595.60" font-size="22.44" textLength="41.52" lengthAdjust="spacingAndGlyphs" stroke-width="0.55">72.5</text>
<text x="574.10" y="595.60" font-size="22.44" textLength="36.05" lengthAdjust="spacingAndGlyphs" stroke-width="0.52">514</text>
<text x="712.09" y="595.60" font-size="22.44" textLength="23.00" lengthAdjust="spacingAndGlyphs" stroke-width="0.61">35</text>
<text x="832.11" y="595.60" font-size="22.44" textLength="35.88" lengthAdjust="spacingAndGlyphs" stroke-width="0.53">522</text>
<text x="953.71" y="595.60" font-size="22.44" textLength="35.93" lengthAdjust="spacingAndGlyphs" stroke-width="0.53">506</text>
<text x="1068.59" y="595.60" font-size="22.44" textLength="54.19" lengthAdjust="spacingAndGlyphs" stroke-width="0.52">2,008</text>
<text x="1200.84" y="595.60" font-size="22.44" textLength="53.73" lengthAdjust="spacingAndGlyphs" stroke-width="0.54">1,978</text>
<text x="1331.67" y="595.60" font-size="22.44" textLength="41.10" lengthAdjust="spacingAndGlyphs" stroke-width="0.57">1.75</text>
<text x="1439.53" y="595.60" font-size="22.44" textLength="42.36" lengthAdjust="spacingAndGlyphs" stroke-width="0.51">2.74</text>
<text x="1555.85" y="595.60" font-size="22.44" textLength="54.06" lengthAdjust="spacingAndGlyphs" stroke-width="0.53">18.50</text>
<text x="1687.94" y="595.60" font-size="22.44" textLength="41.87" lengthAdjust="spacingAndGlyphs" stroke-width="0.53">3.92</text>
<text x="1794.06" y="595.60" font-size="22.44" textLength="73.01" lengthAdjust="spacingAndGlyphs" stroke-width="0.50">7:30am</text>
<text x="1920.14" y="595.60" font-size="22.44" textLength="86.03" lengthAdjust="spacingAndGlyphs" stroke-width="0.54">17th July</text>
<text x="5.47" y="629.60" font-size="22.51" textLength="42.57" lengthAdjust="spacingAndGlyphs" stroke-width="0.82" font-weight="bold">CP 4</text>
<g clip-path="url(#c6)"><text x="86.24" y="629.60" font-size="22.51" textLength="218.63" lengthAdjust="spacingAndGlyphs" stroke-width="0.66" font-weight="bold">Lau Ye Che Restaurant</text></g>
<text x="310.47" y="629.60" font-size="22.51" textLength="29.14" lengthAdjust="spacingAndGlyphs" stroke-width="0.46" font-weight="bold">9.8</text>
<text x="427.54" y="629.60" font-size="22.51" textLength="41.66" lengthAdjust="spacingAndGlyphs" stroke-width="0.37" font-weight="bold">82.3</text>
<text x="574.29" y="629.60" font-size="22.51" textLength="35.53" lengthAdjust="spacingAndGlyphs" stroke-width="0.39" font-weight="bold">246</text>
<text x="712.34" y="629.60" font-size="22.51" textLength="23.22" lengthAdjust="spacingAndGlyphs" stroke-width="0.48" font-weight="bold">33</text>
<text x="832.09" y="629.60" font-size="22.51" textLength="35.59" lengthAdjust="spacingAndGlyphs" stroke-width="0.39" font-weight="bold">453</text>
<text x="953.69" y="629.60" font-size="22.51" textLength="34.86" lengthAdjust="spacingAndGlyphs" stroke-width="0.47" font-weight="bold">445</text>
<text x="1069.18" y="629.60" font-size="22.51" textLength="52.81" lengthAdjust="spacingAndGlyphs" stroke-width="0.43" font-weight="bold">2,461</text>
<text x="1200.97" y="629.60" font-size="22.51" textLength="53.23" lengthAdjust="spacingAndGlyphs" stroke-width="0.40" font-weight="bold">2,423</text>
<text x="1331.85" y="629.60" font-size="22.51" textLength="41.57" lengthAdjust="spacingAndGlyphs" stroke-width="0.38" font-weight="bold">3.00</text>
<text x="1440.20" y="629.60" font-size="22.51" textLength="41.50" lengthAdjust="spacingAndGlyphs" stroke-width="0.39" font-weight="bold">3.27</text>
<text x="1555.90" y="629.60" font-size="22.51" textLength="53.74" lengthAdjust="spacingAndGlyphs" stroke-width="0.36" font-weight="bold">21.50</text>
<text x="1688.30" y="629.60" font-size="22.51" textLength="41.29" lengthAdjust="spacingAndGlyphs" stroke-width="0.41" font-weight="bold">3.83</text>
<text x="1788.80" y="629.60" font-size="22.51" textLength="83.87" lengthAdjust="spacingAndGlyphs" stroke-width="0.46" font-weight="bold">10:30am</text>
<text x="1918.41" y="629.60" font-size="22.51" textLength="86.08" lengthAdjust="spacingAndGlyphs" stroke-width="0.68" font-weight="bold">17th July</text>
<g clip-path="url(#c7)"><text x="2030.03" y="629.60" font-size="22.51" textLength="85.15" lengthAdjust="spacingAndGlyphs" stroke-width="0.62" font-weight="bold">Hard Cut</text></g>
<g clip-path="url(#c8)"><text x="2121.89" y="629.60" font-size="22.51" textLength="31.09" lengthAdjust="spacingAndGlyphs" stroke-width="0.35" font-weight="bold">Off</text></g>
<text x="5.71" y="663.60" font-size="22.44" textLength="43.97" lengthAdjust="spacingAndGlyphs" stroke-width="0.69">CP 5</text>
<text x="85.94" y="663.60" font-size="22.44" textLength="150.36" lengthAdjust="spacingAndGlyphs" stroke-width="0.51">Machang Indah</text>
<text x="310.37" y="663.60" font-size="22.44" textLength="29.44" lengthAdjust="spacingAndGlyphs" stroke-width="0.56">9.2</text>
<text x="427.80" y="663.60" font-size="22.44" textLength="41.02" lengthAdjust="spacingAndGlyphs" stroke-width="0.57">91.5</text>
<text x="574.17" y="663.60" font-size="22.44" textLength="35.98" lengthAdjust="spacingAndGlyphs" stroke-width="0.53">314</text>
<text x="712.07" y="663.60" font-size="22.44" textLength="23.53" lengthAdjust="spacingAndGlyphs" stroke-width="0.57">38</text>
<text x="832.18" y="663.60" font-size="22.44" textLength="35.71" lengthAdjust="spacingAndGlyphs" stroke-width="0.54">398</text>
<text x="953.77" y="663.60" font-size="22.44" textLength="36.07" lengthAdjust="spacingAndGlyphs" stroke-width="0.52">387</text>
<text x="1068.59" y="663.60" font-size="22.44" textLength="54.42" lengthAdjust="spacingAndGlyphs" stroke-width="0.51">2,859</text>
<text x="1200.39" y="663.60" font-size="22.44" textLength="54.44" lengthAdjust="spacingAndGlyphs" stroke-width="0.51">2,810</text>
<text x="1331.49" y="663.60" font-size="22.44" textLength="42.03" lengthAdjust="spacingAndGlyphs" stroke-width="0.53">3.00</text>
<text x="1439.84" y="663.60" font-size="22.44" textLength="42.13" lengthAdjust="spacingAndGlyphs" stroke-width="0.52">3.07</text>
<text x="1555.40" y="663.60" font-size="22.44" textLength="54.51" lengthAdjust="spacingAndGlyphs" stroke-width="0.51">24.50</text>
<text x="1687.94" y="663.60" font-size="22.44" textLength="41.84" lengthAdjust="spacingAndGlyphs" stroke-width="0.53">3.73</text>
<text x="1793.87" y="663.60" font-size="22.44" textLength="73.78" lengthAdjust="spacingAndGlyphs" stroke-width="0.48">1:30pm</text>
<text x="1920.14" y="663.60" font-size="22.44" textLength="86.03" lengthAdjust="spacingAndGlyphs" stroke-width="0.54">17th July</text>
<text x="5.69" y="695.60" font-size="22.44" textLength="44.62" lengthAdjust="spacingAndGlyphs" stroke-width="0.66">CP 6</text>
<text x="86.36" y="695.60" font-size="22.44" textLength="58.08" lengthAdjust="spacingAndGlyphs" stroke-width="0.59">Tokun</text>
<text x="309.88" y="695.60" font-size="22.44" textLength="29.96" lengthAdjust="spacingAndGlyphs" stroke-width="0.53">7.2</text>
<text x="427.78" y="695.60" font-size="22.44" textLength="41.88" lengthAdjust="spacingAndGlyphs" stroke-width="0.53">98.7</text>
<text x="573.79" y="695.60" font-size="22.44" textLength="36.34" lengthAdjust="spacingAndGlyphs" stroke-width="0.51">439</text>
<text x="711.68" y="695.60" font-size="22.44" textLength="24.00" lengthAdjust="spacingAndGlyphs" stroke-width="0.53">43</text>
<text x="831.80" y="695.60" font-size="22.44" textLength="35.60" lengthAdjust="spacingAndGlyphs" stroke-width="0.55">495</text>
<text x="953.71" y="695.60" font-size="22.44" textLength="35.88" lengthAdjust="spacingAndGlyphs" stroke-width="0.53">502</text>
<text x="1068.89" y="695.60" font-size="22.44" textLength="54.14" lengthAdjust="spacingAndGlyphs" stroke-width="0.52">3,354</text>
<text x="1200.69" y="695.60" font-size="22.44" textLength="53.97" lengthAdjust="spacingAndGlyphs" stroke-width="0.53">3,312</text>
<text x="1331.18" y="695.60" font-size="22.44" textLength="42.35" lengthAdjust="spacingAndGlyphs" stroke-width="0.51">2.50</text>
<text x="1439.54" y="695.60" font-size="22.44" textLength="42.09" lengthAdjust="spacingAndGlyphs" stroke-width="0.52">2.88</text>
<text x="1555.40" y="695.60" font-size="22.44" textLength="54.51" lengthAdjust="spacingAndGlyphs" stroke-width="0.51">27.00</text>
<text x="1687.94" y="695.60" font-size="22.44" textLength="41.92" lengthAdjust="spacingAndGlyphs" stroke-width="0.53">3.66</text>
<text x="1793.38" y="695.60" font-size="22.44" textLength="74.28" lengthAdjust="spacingAndGlyphs" stroke-width="0.47">4:00pm</text>
<text x="1920.14" y="695.60" font-size="22.44" textLength="86.03" lengthAdjust="spacingAndGlyphs" stroke-width="0.54">17th July</text>
<text x="6.25" y="729.60" font-size="22.51" textLength="75.12" lengthAdjust="spacingAndGlyphs" stroke-width="0.29" font-weight="bold">Start/Fi</text>
<g clip-path="url(#c9)"><text x="85.69" y="729.60" font-size="22.51" textLength="291.89" lengthAdjust="spacingAndGlyphs" stroke-width="0.52" font-weight="bold">Padang, Taman Pearl, Berapit</text></g>
<text x="309.97" y="729.60" font-size="22.51" textLength="29.09" lengthAdjust="spacingAndGlyphs" stroke-width="0.47" font-weight="bold">7.5</text>
<text x="421.83" y="729.60" font-size="22.51" textLength="53.20" lengthAdjust="spacingAndGlyphs" stroke-width="0.40" font-weight="bold">106.2</text>
<text x="574.09" y="729.60" font-size="22.51" textLength="34.86" lengthAdjust="spacingAndGlyphs" stroke-width="0.47" font-weight="bold">435</text>
<text x="711.80" y="729.60" font-size="22.51" textLength="23.69" lengthAdjust="spacingAndGlyphs" stroke-width="0.39" font-weight="bold">42</text>
<text x="832.23" y="729.60" font-size="22.51" textLength="35.03" lengthAdjust="spacingAndGlyphs" stroke-width="0.45" font-weight="bold">651</text>
<text x="953.83" y="729.60" font-size="22.51" textLength="35.37" lengthAdjust="spacingAndGlyphs" stroke-width="0.41" font-weight="bold">672</text>
<text x="1068.97" y="729.60" font-size="22.51" textLength="52.71" lengthAdjust="spacingAndGlyphs" stroke-width="0.44" font-weight="bold">4,005</text>
<text x="1201.30" y="729.60" font-size="22.51" textLength="52.53" lengthAdjust="spacingAndGlyphs" stroke-width="0.45" font-weight="bold">3,984</text>
<text x="1331.85" y="729.60" font-size="22.51" textLength="41.57" lengthAdjust="spacingAndGlyphs" stroke-width="0.38" font-weight="bold">3.00</text>
<text x="1439.86" y="729.60" font-size="22.51" textLength="41.92" lengthAdjust="spacingAndGlyphs" stroke-width="0.35" font-weight="bold">2.50</text>
<text x="1556.24" y="729.60" font-size="22.51" textLength="53.40" lengthAdjust="spacingAndGlyphs" stroke-width="0.38" font-weight="bold">30.00</text>
<text x="1688.31" y="729.60" font-size="22.51" textLength="40.93" lengthAdjust="spacingAndGlyphs" stroke-width="0.45" font-weight="bold">3.54</text>
<text x="1794.01" y="729.60" font-size="22.51" textLength="73.25" lengthAdjust="spacingAndGlyphs" stroke-width="0.47" font-weight="bold">7:00pm</text>
<text x="1918.41" y="729.60" font-size="22.51" textLength="86.08" lengthAdjust="spacingAndGlyphs" stroke-width="0.68" font-weight="bold">17th July</text>
<g clip-path="url(#c10)"><text x="2030.03" y="729.60" font-size="22.51" textLength="85.15" lengthAdjust="spacingAndGlyphs" stroke-width="0.62" font-weight="bold">Hard Cut</text></g>
<g clip-path="url(#c11)"><text x="2121.89" y="729.60" font-size="22.51" textLength="31.09" lengthAdjust="spacingAndGlyphs" stroke-width="0.35" font-weight="bold">Off</text></g>
<text x="1166.09" y="771.70" font-size="26.26" textLength="117.01" lengthAdjust="spacingAndGlyphs" stroke-width="0.62" font-weight="bold">Cutoff Hrs</text>
<text x="1334.47" y="771.70" font-size="30.02" textLength="71.94" lengthAdjust="spacingAndGlyphs" stroke-width="0.40" font-weight="bold">30.00</text>
<text x="1436.30" y="771.70" font-size="26.26" textLength="48.71" lengthAdjust="spacingAndGlyphs" stroke-width="0.40" font-weight="bold">3.54</text>
</g>
<g id="selection">
<rect x="2" y="50" width="78" height="2" fill="#ffffff"/>
<rect x="2" y="184" width="78" height="2" fill="#ffffff"/>
<rect x="2" y="50" width="2" height="136" fill="#ffffff"/>
<rect x="78" y="50" width="2" height="136" fill="#ffffff"/>
<rect x="0" y="46" width="84" height="4" fill="#1e6e42"/>
<rect x="0" y="186" width="84" height="4" fill="#1e6e42"/>
<rect x="0" y="46" width="2" height="144" fill="#1e6e42"/>
<rect x="80" y="46" width="4" height="144" fill="#1e6e42"/>
<rect x="74" y="180" width="12" height="12" fill="#ffffff"/>
<rect x="76" y="182" width="10" height="10" fill="#1e6e42"/>
</g>
</svg>
</body>
</html>
